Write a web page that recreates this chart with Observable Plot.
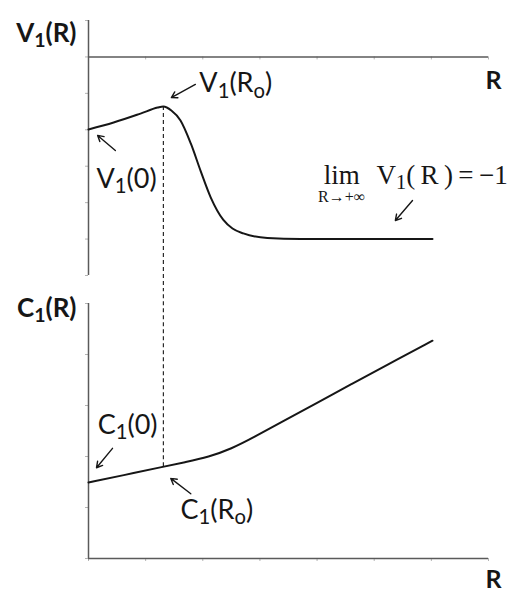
<!DOCTYPE html>
<html>
<head>
<meta charset="utf-8">
<script src="https://cdn.jsdelivr.net/npm/d3@7"></script>
<script src="https://cdn.jsdelivr.net/npm/@observablehq/plot@0.6"></script>
<style>
  html, body { margin: 0; padding: 0; background: #fff; }
  #chart svg { display: block; }
</style>
</head>
<body>
<div id="chart"></div>
<script>
// Schematic behaviour of V1(R) and C1(R) against R.

// Shared R axis
const R_TICKS = [0, 1, 2, 3, 4, 5, 6, 7];
const R_O = 1.31; // position of the V1 maximum

// V1(R): rises to a maximum at Ro, then falls to the limit -1
const V_R = [0, 0.44, 0.91, 1.21, 1.31, 1.45, 1.61, 1.79, 1.96, 2.14, 2.36, 2.52, 2.71, 3.13, 3.71, 6.02];
const V_VAL = [-0.398, -0.36, -0.311, -0.278, -0.272, -0.294, -0.349, -0.475, -0.624, -0.772, -0.895, -0.942, -0.969, -0.994, -1.0, -1.0];
const V_TICKS = [-1.2, -1.0, -0.8, -0.6, -0.4, -0.2, 0, 0.2];
const V_DOMAIN = [-1.2, 0.2];

// C1(R): slow rise up to Ro, then close to linear growth
const C_R = [0, 0.6, 1.31, 1.7, 2.1, 2.5, 2.9, 3.4, 4.0, 4.6, 5.2, 6.02];
const C_VAL = [1.49, 1.63, 1.80, 1.89, 1.99, 2.15, 2.38, 2.69, 3.05, 3.42, 3.78, 4.27];
const C_TICKS = [0, 1, 2, 3, 4, 5];
const C_DOMAIN = [0, 5];

// Annotations (label anchors and arrows, in data units)
const V_NOTES = [
  {label: "V_1(R_o)", r: 1.94, v: -0.195},
  {label: "V_1(0)", r: 0.14, v: -0.717}
];
const V_ARROWS = [
  {r1: 0.47, v1: -0.514, r2: 0.16, v2: -0.431},
  {r1: 1.87, v1: -0.151, r2: 1.45, v2: -0.223},
  {r1: 5.67, v1: -0.788, r2: 5.37, v2: -0.898}
];
const LIMIT = {lim: "lim", under: "R\u2192+\u221E", rest: "V_1(\u2009R\u2009)\u2009=\u2009\u22121", r: 4.43, rRest: 5.04, v: -0.695, vUnder: -0.794};

const C_NOTES = [
  {label: "C_1(0)", r: 0.16, c: 2.45},
  {label: "C_1(R_o)", r: 1.61, c: 0.78}
];
const C_ARROWS = [
  {r1: 0.42, c1: 2.16, r2: 0.14, c2: 1.78},
  {r1: 1.79, c1: 1.27, r2: 1.44, c2: 1.57}
];

// The dashed guide at Ro runs through the gap between the two panels
const V_GAP_END = -1.285;
const C_GAP_END = 5.26;

const SANS = "Lato, 'Open Sans', sans-serif";
const SERIF = "'Liberation Serif', 'DejaVu Serif', serif";
const AXIS = "#5a5a5a";
const TICK = "#b4b4b4";
const INK = "#161616";

const vData = V_R.map((r, i) => ({r, v: V_VAL[i]}));
const cData = C_R.map((r, i) => ({r, c: C_VAL[i]}));
const vPeak = V_VAL[V_R.indexOf(R_O)];
const cAtRo = C_VAL[C_R.indexOf(R_O)];

// Turn "X_1" into X with a lowered, smaller 1
function subscripts(svg) {
  d3.select(svg).selectAll("text").each(function () {
    const parts = this.textContent.split(/_(\w)/);
    if (parts.length < 2) return;
    const t = d3.select(this).text(null);
    let lowered = false;
    parts.forEach((p, i) => {
      if (!p) return;
      const sub = i % 2 === 1;
      const span = t.append("tspan").text(p);
      if (sub) {
        span.attr("font-size", "75%").attr("dy", "0.26em");
        lowered = true;
      } else if (lowered) {
        span.attr("dy", "-0.195em");
        lowered = false;
      }
    });
  });
  return svg;
}

const vPanel = Plot.plot({
  width: 511,
  height: 290,
  marginLeft: 88,
  marginRight: 23,
  marginTop: 20,
  marginBottom: 15,
  x: {domain: [0, 7], axis: null},
  y: {domain: V_DOMAIN},
  style: {background: "white"},
  marks: [
    Plot.axisY({ticks: V_TICKS, tickSize: 3, tickFormat: () => "", label: null, stroke: TICK}),
    Plot.ruleX(R_TICKS, {y1: 0, y2: 0, insetBottom: -3, stroke: TICK}),
    Plot.ruleX([0], {stroke: AXIS, strokeWidth: 1.5}),
    Plot.ruleY([0], {stroke: AXIS, strokeWidth: 1.5}),
    Plot.ruleX([R_O], {y1: vPeak, y2: V_GAP_END, stroke: INK, strokeWidth: 1.1, strokeDasharray: "4,3"}),
    Plot.line(vData, {x: "r", y: "v", curve: "monotone-x", stroke: INK, strokeWidth: 2}),
    Plot.arrow(V_ARROWS, {x1: "r1", y1: "v1", x2: "r2", y2: "v2", stroke: INK, strokeWidth: 1.4, headLength: 7}),
    Plot.text(V_NOTES, {x: "r", y: "v", text: "label", textAnchor: "start", lineAnchor: "bottom", fontFamily: SANS, fontSize: 27, fill: INK}),
    Plot.text([LIMIT], {x: "r", y: "v", text: "lim", textAnchor: "middle", lineAnchor: "bottom", fontFamily: SERIF, fontSize: 27, fill: INK}),
    Plot.text([LIMIT], {x: "r", y: "vUnder", text: "under", textAnchor: "middle", lineAnchor: "bottom", fontFamily: SERIF, fontSize: 16, fill: INK}),
    Plot.text([LIMIT], {x: "rRest", y: "v", text: "rest", textAnchor: "start", lineAnchor: "bottom", fontFamily: SERIF, fontSize: 27, fill: INK}),
    Plot.text(["V_1(R)"], {frameAnchor: "top-left", textAnchor: "end", lineAnchor: "bottom", dx: -12, dy: 21, fontFamily: SANS, fontWeight: "bold", fontSize: 26, fill: INK}),
    Plot.text(["R"], {x: 7, y: 0, textAnchor: "start", lineAnchor: "bottom", dx: -3, dy: 32, fontFamily: SANS, fontWeight: "bold", fontSize: 25, fill: INK})
  ]
});

const cPanel = Plot.plot({
  width: 511,
  height: 302,
  marginLeft: 88,
  marginRight: 23,
  marginTop: 13,
  marginBottom: 34,
  x: {domain: [0, 7]},
  y: {domain: C_DOMAIN},
  style: {background: "white"},
  marks: [
    Plot.axisY({ticks: C_TICKS, tickSize: 3, tickFormat: () => "", label: null, stroke: TICK}),
    Plot.axisX({ticks: R_TICKS, tickSize: 3, tickFormat: () => "", label: null, stroke: TICK}),
    Plot.ruleX([0], {stroke: AXIS, strokeWidth: 1.5}),
    Plot.ruleY([0], {stroke: AXIS, strokeWidth: 1.5}),
    Plot.ruleX([R_O], {y1: cAtRo, y2: C_GAP_END, stroke: INK, strokeWidth: 1.1, strokeDasharray: "4,3"}),
    Plot.line(cData, {x: "r", y: "c", curve: "basis", stroke: INK, strokeWidth: 2}),
    Plot.arrow(C_ARROWS, {x1: "r1", y1: "c1", x2: "r2", y2: "c2", stroke: INK, strokeWidth: 1.4, headLength: 7}),
    Plot.text(C_NOTES, {x: "r", y: "c", text: "label", textAnchor: "start", lineAnchor: "bottom", fontFamily: SANS, fontSize: 27, fill: INK}),
    Plot.text(["C_1(R)"], {frameAnchor: "top-left", textAnchor: "end", lineAnchor: "bottom", dx: -12, dy: 13, fontFamily: SANS, fontWeight: "bold", fontSize: 26, fill: INK}),
    Plot.text(["R"], {frameAnchor: "bottom-right", textAnchor: "start", lineAnchor: "bottom", dx: -3, dy: 29, fontFamily: SANS, fontWeight: "bold", fontSize: 25, fill: INK})
  ]
});

document.getElementById("chart").append(subscripts(vPanel), subscripts(cPanel));
</script>
</body>
</html>
